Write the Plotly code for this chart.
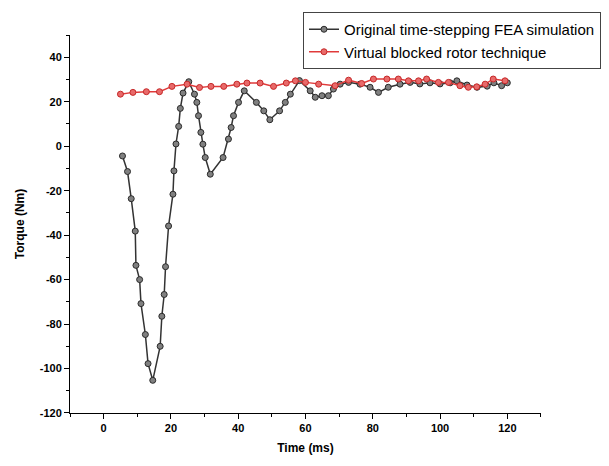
import plotly.graph_objects as go

# Original time-stepping FEA simulation
fea_time = [5.6, 7.1, 8.2, 9.4, 9.6, 10.7, 11.1, 12.4, 13.2, 14.6, 16.8, 17.3, 18.0, 18.4,
            19.3, 20.6, 20.9, 21.5, 22.3, 22.8, 23.6, 25.3, 27.0, 27.7, 28.2, 28.9, 29.5,
            30.2, 31.7, 35.5, 37.1, 37.9, 38.6, 40.1, 41.8, 45.4, 47.6, 49.4, 52.3, 54.0,
            55.5, 58.2, 61.4, 62.9, 64.9, 66.8, 68.3, 70.3, 72.8, 76.2, 79.2, 81.7, 84.6,
            88.1, 91.1, 94.0, 97.0, 100.0, 103.0, 105.0, 108.0, 111.0, 114.0, 116.0, 118.3, 120.0]
fea_torque = [-4.4, -11.4, -23.6, -38.2, -53.6, -60.0, -70.8, -84.7, -97.8, -105.3, -90.0,
              -76.5, -66.7, -54.2, -35.9, -21.6, -11.1, 1.0, 8.9, 17.0, 23.9, 29.0, 23.4,
              19.7, 13.7, 6.2, 0.9, -5.1, -12.6, -5.1, 3.2, 8.4, 13.7, 19.7, 24.9, 19.7,
              15.9, 11.9, 15.9, 19.7, 23.4, 29.5, 24.9, 22.0, 22.7, 22.7, 25.7, 27.9, 28.7,
              27.9, 26.5, 24.2, 26.5, 27.9, 28.7, 28.0, 28.5, 28.0, 28.5, 29.4, 27.5, 26.5,
              27.0, 28.5, 27.2, 28.5]

# Virtual blocked rotor technique
vbr_time = [5, 8.7, 12.7, 16.6, 20.3, 24.8, 28.5, 31.9, 35.7, 39.6, 42.6, 46.5, 50.5, 54.3,
            57.0, 60.0, 63.9, 68.8, 72.8, 76.7, 80.2, 84.2, 87.6, 90.6, 93.6, 96.0, 99.5,
            102.5, 105.9, 108.4, 110.9, 113.4, 115.8, 119.3]
vbr_torque = [23.4, 24.2, 24.5, 24.5, 26.9, 27.9, 26.4, 26.9, 26.9, 27.9, 28.4, 28.4, 26.9,
              28.4, 29.4, 28.7, 27.9, 27.2, 29.7, 28.2, 30.2, 30.2, 30.2, 29.4, 29.4, 30.2,
              28.7, 28.7, 27.2, 26.5, 26.7, 27.9, 30.2, 29.4]

x_ticks = [0, 20, 40, 60, 80, 100, 120]
y_ticks = [-120, -100, -80, -60, -40, -20, 0, 20, 40]

FONT = "Arial, Liberation Sans, sans-serif"

fig = go.Figure()
fig.add_trace(go.Scatter(
    x=fea_time, y=fea_torque, mode="lines+markers",
    name="Original time-stepping FEA simulation",
    line=dict(color="#333333", width=1.5),
    marker=dict(size=6, color="#808080", line=dict(color="#2a2a2a", width=1)),
))
fig.add_trace(go.Scatter(
    x=vbr_time, y=vbr_torque, mode="lines+markers",
    name="Virtual blocked rotor technique",
    line=dict(color="#e03a3a", width=1.5),
    marker=dict(size=6, color="#e86a6a", line=dict(color="#c62828", width=1)),
))

axis_common = dict(
    showline=True, linecolor="black", linewidth=1, mirror=False,
    showgrid=False, zeroline=False, automargin=False,
    ticks="outside", ticklen=5, tickcolor="black", tickwidth=1,
    tickfont=dict(family=FONT, size=11, color="black", weight="bold"),
)

fig.update_xaxes(
    domain=[0, 0.8787],
    range=[-10, 130], tickvals=x_ticks, ticktext=[str(v) for v in x_ticks],
    minor=dict(ticks="outside", ticklen=3, dtick=10, tick0=0, tickcolor="black"),
    title=dict(text="Time (ms)", font=dict(family=FONT, size=12, color="black", weight="bold"),
               standoff=10),
    **axis_common,
)
fig.update_yaxes(
    domain=[0, 0.9426],
    range=[-120, 50], tickvals=y_ticks, ticktext=[str(v) for v in y_ticks],
    minor=dict(ticks="outside", ticklen=3, dtick=10, tick0=0, tickcolor="black"),
    title=dict(text="Torque (Nm)", font=dict(family=FONT, size=12, color="black", weight="bold"),
               standoff=12),
    **axis_common,
)

# page body has an 8px margin, so the figure is shifted by 8px; compensate.
# Legend sits inside the paper area (so it pushes no margins); axis domains
# shrink the plot area to the reference position.
fig.update_layout(
    width=601, height=458,
    margin=dict(l=62, r=3, t=4, b=53),
    paper_bgcolor="white", plot_bgcolor="white",
    font=dict(family=FONT, size=13, color="black"),
    showlegend=True,
    legend=dict(
        x=0.4347, y=1.0, xanchor="left", yanchor="top",
        bgcolor="white", bordercolor="#444444", borderwidth=1,
        font=dict(family=FONT, size=15, color="black"),
        tracegroupgap=0, itemwidth=30,
    ),
)

fig.write_html("out.html")
